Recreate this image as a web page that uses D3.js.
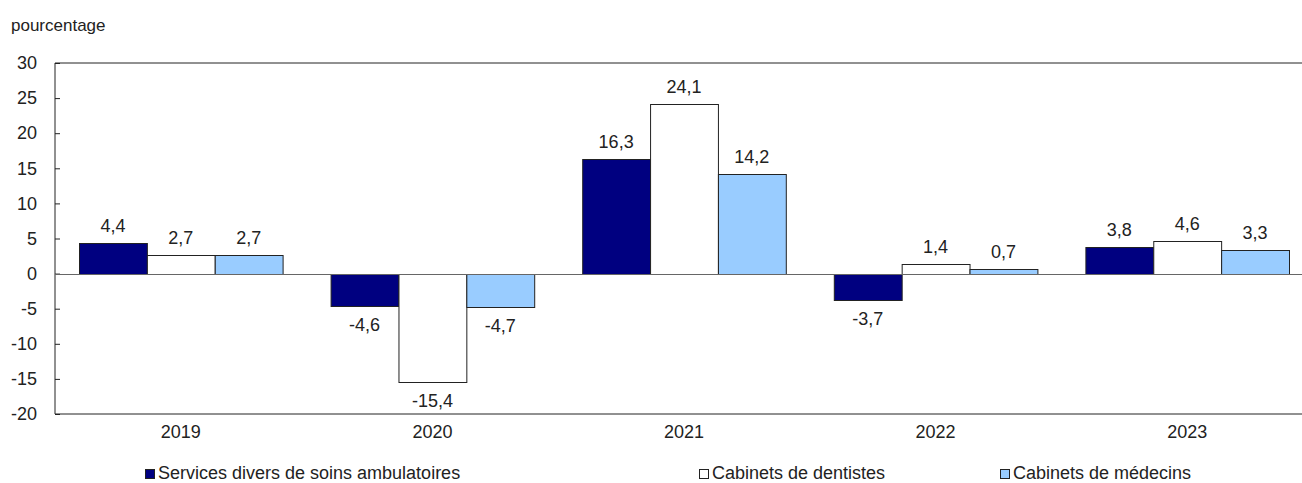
<!DOCTYPE html>
<html>
<head>
<meta charset="utf-8">
<script src="https://cdn.jsdelivr.net/npm/d3@7"></script>
<style>
  body { margin: 0; background: #fff; }
  svg text { font-family: "Liberation Sans", Arial, sans-serif; fill: #222; }
</style>
</head>
<body>
<svg id="chart" width="1302" height="483"></svg>
<script>
var years = ["2019", "2020", "2021", "2022", "2023"];
var seriesNames = ["Services divers de soins ambulatoires", "Cabinets de dentistes", "Cabinets de médecins"];
var services = [4.4, -4.6, 16.3, -3.7, 3.8];
var dentistes = [2.7, -15.4, 24.1, 1.4, 4.6];
var medecins = [2.7, -4.7, 14.2, 0.7, 3.3];
var yTicks = [-20, -15, -10, -5, 0, 5, 10, 15, 20, 25, 30];
var colors = ["#000080", "#ffffff", "#99ccff"];

var svg = d3.select("#chart");
var values = [services, dentistes, medecins];

var x0 = d3.scaleBand().domain(years).range([55, 1313]).padding(0);
var x1 = d3.scaleBand().domain(seriesNames).range([24, x0.bandwidth() - 24]).padding(0);
var y = d3.scaleLinear().domain([-20, 30]).range([414, 63]);

var fmt = function(v) { return d3.format(".1f")(v).replace(".", ",").replace("−", "-"); };

// titre axe
svg.append("text").attr("x", 11).attr("y", 31).style("font-size", "17px").text("pourcentage");

// axe y
var yAxis = svg.append("g").attr("transform", "translate(55,0)")
    .call(d3.axisLeft(y).tickValues(yTicks).tickSize(-5).tickPadding(18)
        .tickFormat(function(d) { return d; }));
yAxis.select(".domain").remove();
yAxis.selectAll(".tick line").attr("stroke", "#222");
yAxis.selectAll("text").style("font-size", "18px").attr("fill", "#222");

// cadre
svg.append("line").attr("x1", 55).attr("x2", 1302).attr("y1", y(30)).attr("y2", y(30)).attr("stroke", "#222");
svg.append("line").attr("x1", 55).attr("x2", 55).attr("y1", y(30)).attr("y2", y(-20)).attr("stroke", "#222");

// barres
var rows = years.map(function(yr, i) {
    return seriesNames.map(function(s, j) { return { year: yr, series: s, j: j, value: values[j][i] }; });
});

var groups = svg.append("g").selectAll("g").data(rows).enter().append("g")
    .attr("transform", function(d, i) { return "translate(" + x0(years[i]) + ",0)"; });

groups.selectAll("rect").data(function(d) { return d; }).enter().append("rect")
    .attr("x", function(d) { return x1(d.series) + 0.5; })
    .attr("width", x1.bandwidth())
    .attr("y", function(d) { return Math.round(y(Math.max(0, d.value))) + 0.5; })
    .attr("height", function(d) { return Math.abs(Math.round(y(d.value)) - Math.round(y(0))); })
    .attr("fill", function(d) { return colors[d.j]; })
    .attr("stroke", "#222")
    .attr("stroke-width", 1);

groups.selectAll("text.val").data(function(d) { return d; }).enter().append("text")
    .attr("class", "val")
    .attr("x", function(d) { return x1(d.series) + x1.bandwidth() / 2; })
    .attr("y", function(d) { return d.value >= 0 ? y(d.value) - 11 : y(d.value) + 25; })
    .attr("text-anchor", "middle")
    .style("font-size", "18px")
    .text(function(d) { return fmt(d.value); });

// ligne zéro
svg.append("line").attr("x1", 55).attr("x2", 1302).attr("y1", Math.round(y(0)) + 0.5).attr("y2", Math.round(y(0)) + 0.5)
    .attr("stroke", "#666");

// axe x
var xAxis = svg.append("g").attr("transform", "translate(0," + y(-20) + ")")
    .call(d3.axisBottom(x0).tickSize(0).tickPadding(11));
xAxis.select(".domain").remove();
xAxis.selectAll("text").style("font-size", "18px").attr("fill", "#222");
svg.append("line").attr("x1", 55).attr("x2", 1302).attr("y1", y(-20)).attr("y2", y(-20)).attr("stroke", "#222");

// légende
var legendX = [145, 699, 1000];
var legend = svg.append("g").selectAll("g").data(seriesNames).enter().append("g")
    .attr("transform", function(d, i) { return "translate(" + legendX[i] + ",0)"; });
legend.append("rect").attr("x", 0.5).attr("y", 469.5).attr("width", 9).attr("height", 9)
    .attr("fill", function(d, i) { return colors[i]; }).attr("stroke", "#222");
legend.append("text").attr("x", 13).attr("y", 479).style("font-size", "18px").text(function(d) { return d; });
</script>
</body>
</html>
